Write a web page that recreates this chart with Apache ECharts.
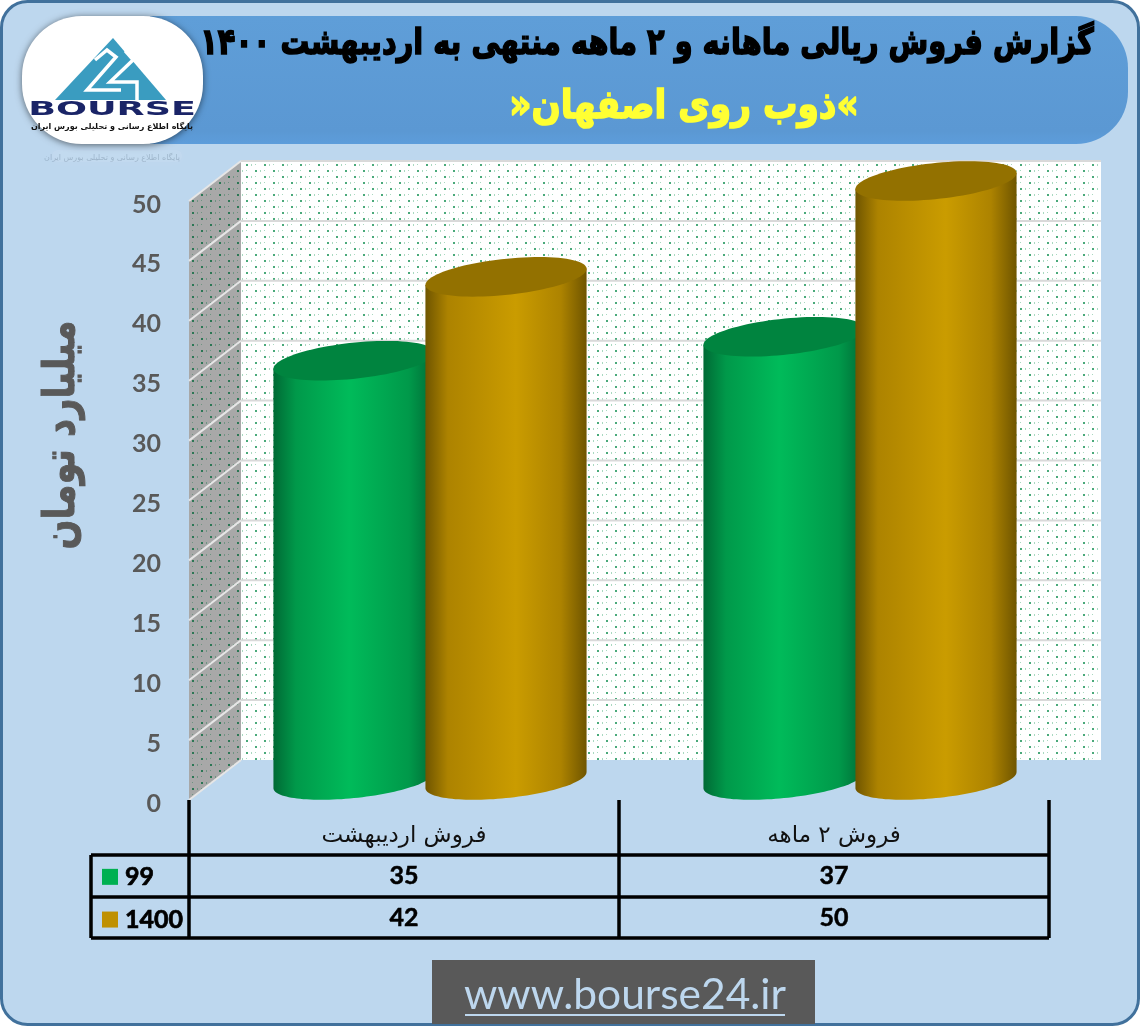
<!DOCTYPE html>
<html lang="fa">
<head>
<meta charset="utf-8">
<style>html,body{margin:0;padding:0;background:#fff}#c{width:1141px;height:1027px}</style>
<script src="https://cdn.jsdelivr.net/npm/echarts@6/dist/echarts.min.js"></script>
</head>
<body>
<div id="c" dir="rtl"></div>
<script>
const categories = ['فروش اردیبهشت', 'فروش ۲ ماهه'];
const seriesNames = ['99', '1400'];
const values99 = [35, 37];
const values1400 = [42, 50];
const yTicks = [0, 5, 10, 15, 20, 25, 30, 35, 40, 45, 50];
const titleText = 'گزارش فروش ریالی ماهانه و ۲ ماهه منتهی به اردیبهشت ۱۴۰۰';
const subtitleText = '»ذوب روی اصفهان«';
const yName = 'میلیارد تومان';
const siteText = 'www.bourse24.ir';

const FA = '"DejaVu Sans"', LA = 'Lato';
const DX = 52, DY = -40;

function dots(bg, c1, c2) {
  const cv = document.createElement('canvas');
  cv.width = 18; cv.height = 12;
  const g = cv.getContext('2d');
  g.fillStyle = bg; g.fillRect(0, 0, 18, 12);
  g.fillStyle = c1; g.fillRect(3, 2, 2, 2); g.fillRect(12, 8, 2, 2);
  g.fillStyle = c2; g.fillRect(8, 2, 1, 2); g.fillRect(17, 8, 1, 2); g.fillRect(3, 8, 1, 1); g.fillRect(12, 2, 1, 1);
  return cv;
}
const wallPat = { image: dots('#ffffff', '#4aa97a', '#a9d9c0'), repeat: 'repeat' };
const sidePat = { image: dots('#a8a8a8', '#2c7654', '#6f9482'), repeat: 'repeat' };

function renderWalls(params, api) {
  const children = [];
  const a = api.coord([0, 0]), b = api.coord([0, 50]);
  const cs = params.coordSys;
  const x0 = cs.x, x1 = cs.x + cs.width;
  children.push({ type: 'rect', shape: { x: x0 + DX, y: b[1] + DY, width: cs.width, height: a[1] - b[1] }, style: { fill: wallPat } });
  children.push({ type: 'polygon', shape: { points: [[x0, b[1]], [x0 + DX, b[1] + DY], [x0 + DX, a[1] + DY], [x0, a[1]]] }, style: { fill: sidePat } });
  yTicks.forEach(t => {
    const p = api.coord([0, t]);
    children.push({ type: 'line', shape: { x1: x0, y1: p[1], x2: x0 + DX, y2: p[1] + DY }, style: { stroke: '#e6e6e6', lineWidth: 2 } });
    if (t > 0) children.push({ type: 'line', shape: { x1: x0 + DX, y1: p[1] + DY, x2: x1 + DX, y2: p[1] + DY }, style: { stroke: '#d9d9d9', lineWidth: 2 } });
  });
  return { type: 'group', children };
}

function grad(edge, mid, peak, at) {
  return { type: 'linear', x: 0, y: 0, x2: 1, y2: 0, colorStops: [
    { offset: 0, color: edge }, { offset: 0.14, color: mid }, { offset: at, color: peak },
    { offset: 0.84, color: mid }, { offset: 1, color: edge }] };
}
function cylinder(shift, bodyFill, capFill) {
  return function (params, api) {
    const cat = api.value(0), v = api.value(1);
    const top = api.coord([cat, v]), base = api.coord([cat, 0]);
    const cx = top[0] + DX / 2 + shift, yt = top[1] + DY / 2, yb = base[1] + DY / 2;
    const A = 81, B = 18, th = 6 * Math.PI / 180;
    const pt = (t, yc) => [cx + A * Math.cos(t) * Math.cos(th) + B * Math.sin(t) * Math.sin(th),
                           yc - A * Math.cos(t) * Math.sin(th) + B * Math.sin(t) * Math.cos(th)];
    const tr = Math.atan2(B * Math.sin(th), A * Math.cos(th));
    const body = [pt(tr + Math.PI, yt)];
    for (let i = 0; i <= 60; i++) body.push(pt(tr + Math.PI - Math.PI * i / 60, yb));
    body.push(pt(tr, yt));
    const cap = [];
    for (let i = 0; i < 90; i++) cap.push(pt(i * 2 * Math.PI / 90, yt));
    return { type: 'group', children: [
      { type: 'polygon', shape: { points: body }, style: { fill: bodyFill } },
      { type: 'polygon', shape: { points: cap }, style: { fill: capFill } }
    ] };
  };
}
function renderTable(params, api) {
  const cat = api.value(0), row = api.value(1), v = api.value(2);
  const p = api.coord([cat, 0]);
  return { type: 'text', style: { text: String(v), x: p[0], y: row === 0 ? 876 : 918, font: 'bold 25px ' + LA, fill: '#000', stroke: '#000', lineWidth: 0.5, textAlign: 'center', textVerticalAlign: 'middle' } };
}

const ln = (x1, y1, x2, y2) => ({ type: 'line', z: 20, shape: { x1, y1, x2, y2 }, style: { stroke: '#000', lineWidth: 3.5 } });
const txt = (text, x, y, font, fill, extra, el) => Object.assign({ type: 'text', z: 30, x, y,
  style: Object.assign({ text, x: 0, y: 0, font, fill, textAlign: 'center', textVerticalAlign: 'middle' }, (extra || {})) }, el || {});
const poly = (pts, w) => ({ type: 'polyline', z: 32, shape: { points: pts }, style: { stroke: '#fff', lineWidth: w, fill: null } });

const graphics = [
  { type: 'rect', z: -30, shape: { x: 1.5, y: 1.5, width: 1137, height: 1023, r: 26 }, style: { fill: '#bdd7ee', stroke: '#41719c', lineWidth: 3 } },
  { type: 'rect', z: -20, shape: { x: 150, y: 16, width: 978, height: 128, r: [0, 52, 52, 0] },
    style: { fill: { type: 'linear', x: 0, y: 0, x2: 0, y2: 1, colorStops: [{ offset: 0, color: '#5f9ed8' }, { offset: 0.9, color: '#5b98d3' }, { offset: 1, color: '#5d9ddb' }] } } },
  // logo
  { type: 'rect', z: -10, shape: { x: 52, y: 150, width: 130, height: 12, r: 6 }, style: { fill: 'rgba(255,255,255,0.07)', shadowBlur: 8, shadowColor: 'rgba(255,255,255,0.25)' } },
  { type: 'rect', z: 25, shape: { x: 22, y: 16, width: 181, height: 128, r: 60 }, style: { fill: '#fff', shadowBlur: 7, shadowColor: 'rgba(0,0,0,0.55)', shadowOffsetY: 1 } },
  { type: 'polygon', z: 31, shape: { points: [[55, 100], [113, 38], [166, 100]] }, style: { fill: '#3a9cc0' } },
  poly([[95, 60], [107, 50], [116, 57], [87, 90], [121, 90]], 3.5),
  poly([[133, 60], [110, 82], [137, 82], [137, 101]], 3.5),
  poly([[125, 51], [133, 60]], 3),
  txt('BOURSE', 112, 110, 'bold 19px ' + FA, '#1a2467', {}, { scaleX: 1.92 }),
  txt('پایگاه اطلاع رسانی و تحلیلی بورس ایران', 112, 127, 'bold 8px ' + FA, '#111'),
  txt('پایگاه اطلاع رسانی و تحلیلی بورس ایران', 112, 158, '8px ' + FA, 'rgba(70,90,110,0.28)'),
  // headings
  txt(titleText, 647, 45, 'bold 36px ' + FA, '#000', { stroke: '#000', lineWidth: 1.6 }, { scaleX: 0.80 }),
  txt(subtitleText, 684, 108, 'bold 40px ' + FA, '#ffff33', { stroke: '#ffff33', lineWidth: 1.6 }, { scaleX: 0.86 }),
  txt(yName, 63, 435, 'bold 44px ' + FA, '#595959', { stroke: '#595959', lineWidth: 1 }, { rotation: Math.PI / 2, scaleX: 0.8 }),
  // table rules
  ln(189, 800, 189, 938), ln(619, 800, 619, 938), ln(1049, 800, 1049, 938),
  ln(91, 855, 1049, 855), ln(91, 897, 1049, 897), ln(91, 938, 1049, 938), ln(91, 855, 91, 938),
  // footer
  { type: 'rect', z: 10, shape: { x: 432, y: 960, width: 383, height: 64 }, style: { fill: '#595959' } },
  txt(siteText, 625, 995, '42.5px ' + LA, '#bdd7ee'),
  { type: 'line', z: 30, shape: { x1: 465, y1: 1015, x2: 785, y2: 1015 }, style: { stroke: '#bdd7ee', lineWidth: 2 } }
];

const chart = echarts.init(document.getElementById('c'), null, { renderer: 'canvas' });
chart.setOption({
  animation: false,
  backgroundColor: '#fff',
  graphic: { elements: graphics },
  grid: { left: 189, right: 92, top: 201, bottom: 227, containLabel: false },
  legend: {
    orient: 'vertical', left: 97, top: 859, itemWidth: 16, itemHeight: 16, itemGap: 17, selectedMode: false,
    data: seriesNames.map(n => ({ name: n, icon: 'rect' })),
    textStyle: { fontFamily: LA, fontWeight: 'bold', fontSize: 25, color: '#000', textBorderColor: '#000', textBorderWidth: 0.7, padding: [0, 0, 0, 2] }
  },
  xAxis: {
    type: 'category', data: categories,
    axisLine: { show: false }, axisTick: { show: false },
    axisLabel: { margin: 25, fontFamily: FA, fontSize: 23, color: '#111', interval: 0 }
  },
  yAxis: {
    type: 'value', min: 0, max: 50, interval: 5,
    axisLine: { show: false }, axisTick: { show: false }, splitLine: { show: false },
    axisLabel: { margin: 28, fontFamily: LA, fontWeight: 'bold', fontSize: 25, color: '#595959', verticalAlign: 'top', padding: [-9, 0, 0, 0] }
  },
  series: [
    { name: 'walls', type: 'custom', z: 1, silent: true, data: [[0]], renderItem: renderWalls, encode: { x: 0 } },
    { name: seriesNames[0], type: 'custom', z: 3, itemStyle: { color: '#00b050' },
      data: values99.map((v, i) => [i, v]), encode: { x: 0, y: 1 },
      renderItem: cylinder(-76, grad('#006a35', '#00994a', '#00bb5a', 0.47), '#00843f') },
    { name: seriesNames[1], type: 'custom', z: 4, itemStyle: { color: '#bf9000' },
      data: values1400.map((v, i) => [i, v]), encode: { x: 0, y: 1 },
      renderItem: cylinder(76, grad('#6f5500', '#ad8300', '#ca9c00', 0.56), '#937100') },
    { name: 'table', type: 'custom', z: 30, silent: true,
      data: values99.map((v, i) => [i, 0, v]).concat(values1400.map((v, i) => [i, 1, v])),
      encode: { x: 0 }, renderItem: renderTable }
  ]
});
</script>
</body>
</html>
